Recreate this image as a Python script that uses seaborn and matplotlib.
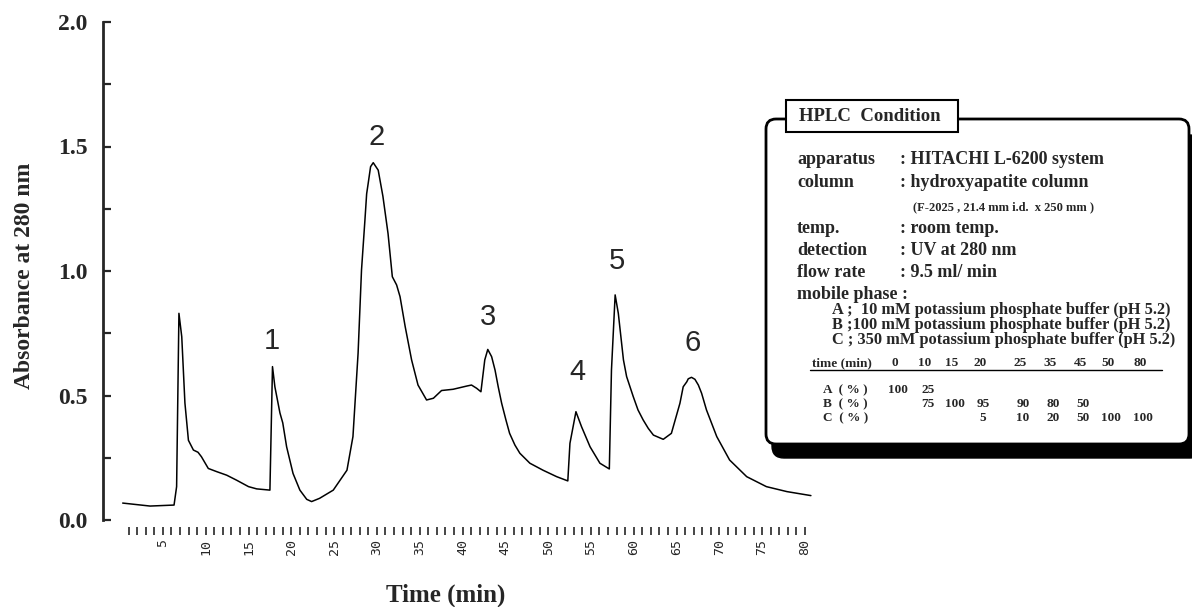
import matplotlib
matplotlib.use("Agg")
import numpy as np
import pandas as pd
import matplotlib.pyplot as plt
import seaborn as sns
from matplotlib.patches import FancyBboxPatch, Rectangle
from matplotlib.ticker import MultipleLocator, FixedLocator

# chromatogram trace
time_min = [0.3, 3.5, 6.3, 6.6, 6.87, 7.2, 7.57, 7.98, 8.56, 9.1,
            9.5, 10.3, 11.3, 12.45, 13.6, 15.0, 15.95, 17.5, 17.8, 18.08,
            18.67, 19.0, 19.45, 20.2, 21.0, 21.8, 22.37, 23.3, 24.9, 26.5,
            27.2, 27.8, 28.2, 28.6, 28.8, 28.98, 29.26, 29.57, 30.15, 30.7,
            31.3, 31.8, 32.3, 32.7, 33.3, 34.05, 34.8, 35.8, 36.6, 37.55,
            38.9, 40.5, 41.05, 41.65, 42.15, 42.6, 42.95, 43.4, 43.8, 44.17,
            44.57, 45.07, 45.5, 46.12, 46.7, 47.87, 49.4, 51.0, 52.3, 52.55,
            53.25, 53.9, 54.9, 56.05, 57.15, 57.4, 57.83, 58.2, 58.8, 59.17,
            59.95, 60.5, 61.1, 61.7, 62.3, 63.45, 64.4, 65.4, 65.78, 66.2,
            66.37, 66.75, 67.15, 67.55, 67.93, 68.5, 69.7, 71.2, 73.2, 75.5,
            77.9, 80.7]
absorbance = [0.068, 0.056, 0.06, 0.134, 0.83, 0.736, 0.47, 0.32, 0.281, 0.272,
              0.254, 0.207, 0.194, 0.18, 0.16, 0.134, 0.125, 0.12, 0.616, 0.535,
              0.43, 0.39, 0.294, 0.187, 0.12, 0.083, 0.074, 0.087, 0.12, 0.2,
              0.335, 0.67, 1.004, 1.205, 1.31, 1.352, 1.419, 1.435, 1.405, 1.3,
              1.15, 0.977, 0.944, 0.897, 0.777, 0.643, 0.542, 0.482, 0.489, 0.52,
              0.525, 0.538, 0.542, 0.529, 0.515, 0.643, 0.685, 0.656, 0.602, 0.535,
              0.469, 0.402, 0.348, 0.301, 0.268, 0.228, 0.2, 0.174, 0.157, 0.308,
              0.435, 0.375, 0.294, 0.228, 0.205, 0.602, 0.904, 0.83, 0.643, 0.576,
              0.495, 0.442, 0.402, 0.368, 0.341, 0.324, 0.348, 0.469, 0.535, 0.555,
              0.567, 0.573, 0.565, 0.542, 0.509, 0.442, 0.335, 0.241, 0.174, 0.134,
              0.114, 0.098]

peak_names = ["1", "2", "3", "4", "5", "6"]

x_ticks = list(range(5, 85, 5))
y_ticks = [0.0, 0.5, 1.0, 1.5, 2.0]

cond_names = ["apparatus", "column", "temp.", "detection", "flow rate"]
cond_values = [": HITACHI L-6200 system", ": hydroxyapatite column",
               ": room temp.", ": UV at 280 nm", ": 9.5 ml/ min"]
column_note = "(F-2025 , 21.4 mm i.d.  x 250 mm )"
buffers = ["A ;  10 mM potassium phosphate buffer (pH 5.2)",
           "B ;100 mM potassium phosphate buffer (pH 5.2)",
           "C ; 350 mM potassium phosphate buffer (pH 5.2)"]
grad_times = ["0", "10", "15", "20", "25", "35", "45", "50", "80"]
grad_rows = ["A  ( % )", "B  ( % )", "C  ( % )"]
grad_A = ["100", "25", "", "", "", "", "", "", ""]
grad_B = ["", "75", "100", "95", "90", "80", "50", "", ""]
grad_C = ["", "", "", "5", "10", "20", "50", "100", "100"]

df = pd.DataFrame({"time": time_min, "abs": absorbance})

sns.set_style("white")
plt.rcParams["font.family"] = ["Liberation Serif", "DejaVu Serif"]

fig = plt.figure(figsize=(11.92, 6.07), dpi=100)
ax = fig.add_axes([103 / 1192, 87 / 607, 727.6 / 1192, 498 / 607])

sns.lineplot(data=df, x="time", y="abs", color="black", lw=1.1,
             errorbar=None, sort=False, ax=ax)

ax.set_xlim(-2, 83)
ax.set_ylim(0, 2)

# axis styling
for s in ["top", "right", "bottom"]:
    ax.spines[s].set_visible(False)
ax.spines["bottom"].set_position(("outward", 5))
ax.spines["left"].set_linewidth(2)

ax.set_yticks(y_ticks)
ax.set_yticklabels([f"{v:.1f}" for v in y_ticks])
ax.yaxis.set_minor_locator(MultipleLocator(0.25))
ax.tick_params(axis="y", which="both", left=True, direction="in", length=6,
               width=1.6, pad=11, labelsize=17)
for lab in ax.get_yticklabels():
    lab.set_fontweight("bold")

ax.set_xticks(x_ticks)
ax.set_xticklabels([str(v) for v in x_ticks])
ax.xaxis.set_minor_locator(FixedLocator(list(range(1, 81))))
ax.tick_params(axis="x", which="both", bottom=True, direction="out", length=6,
               width=1.2, pad=3, labelsize=9.5, labelrotation=90)
for lab in ax.get_xticklabels():
    lab.set_fontfamily("DejaVu Sans Mono")

ax.set_ylabel("Absorbance at 280 nm", fontsize=17, fontweight="bold")
ax.yaxis.set_label_coords(-0.108, 0.49)
ax.yaxis.label.set_va("center")
ax.set_xlabel("Time (min)", fontsize=18, fontweight="bold")
ax.xaxis.set_label_coords(0.471, -0.151)
ax.xaxis.label.set_va("center")

# peak numbers
peak_x = [17.7, 30.0, 43.0, 53.4, 58.0, 66.9]
peak_y = [0.72, 1.54, 0.815, 0.595, 1.04, 0.71]
for name, px, py in zip(peak_names, peak_x, peak_y):
    ax.text(px, py, name, ha="center", va="center", fontsize=21,
            family="Liberation Sans")

# HPLC condition box drawn in pixel space
ov = fig.add_axes([0, 0, 1, 1])
ov.set_xlim(0, 1192)
ov.set_ylim(607, 0)
ov.axis("off")

ov.add_patch(FancyBboxPatch((772, 135), 430, 323,
                            boxstyle="round,pad=0,rounding_size=12",
                            fc="black", ec="black", lw=1))
ov.add_patch(FancyBboxPatch((766, 119), 423, 325,
                            boxstyle="round,pad=0,rounding_size=10",
                            fc="white", ec="black", lw=2))
ov.add_patch(Rectangle((786, 100), 172, 32, fc="white", ec="black", lw=1.5))
ov.text(799, 121, "HPLC  Condition", fontsize=13.5, fontweight="bold",
        ha="left", va="baseline")

cond_y = [164, 187, 233, 255, 277]
for name, val, y in zip(cond_names, cond_values, cond_y):
    ov.text(797, y, name, fontsize=13, fontweight="bold", ha="left", va="baseline")
    ov.text(900, y, val, fontsize=13, fontweight="bold", ha="left", va="baseline")
ov.text(913, 210, column_note, fontsize=9, fontweight="bold", ha="left", va="baseline")
ov.text(797, 299, "mobile phase :", fontsize=13, fontweight="bold",
        ha="left", va="baseline")
for line, y in zip(buffers, [314, 329, 344]):
    ov.text(832, y, line, fontsize=11.8, fontweight="bold", ha="left", va="baseline")

col_x = [895, 925, 952, 980, 1020, 1050, 1080, 1108, 1140]
ov.text(812, 366, "time (min)", fontsize=9.5, fontweight="bold", ha="left", va="baseline")
for t, x in zip(grad_times, col_x):
    ov.text(x, 366, t, fontsize=9.5, fontweight="bold", ha="center", va="baseline")
ov.plot([810, 1162], [370, 370], color="black", lw=1)
for row, vals, y in zip(grad_rows, [grad_A, grad_B, grad_C], [393, 407, 421]):
    ov.text(823, y, row, fontsize=9.5, fontweight="bold", ha="left", va="baseline")
    for v, x in zip(vals, col_x):
        if v:
            ov.text(x + 3, y, v, fontsize=9.5, fontweight="bold",
                    ha="center", va="baseline")

fig.savefig("out.png", dpi=100)
